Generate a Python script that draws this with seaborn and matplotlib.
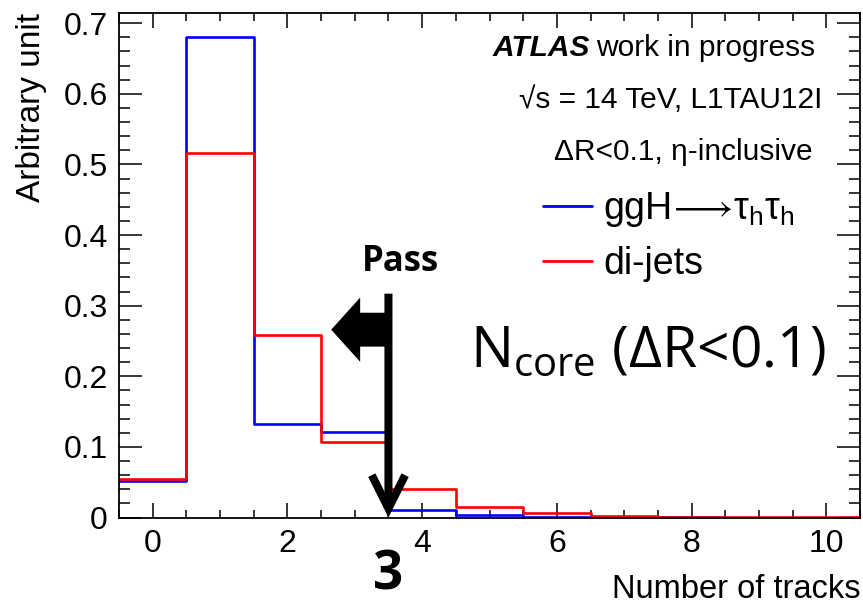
import numpy as np
import pandas as pd
import seaborn as sns
import matplotlib
matplotlib.use("Agg")
import matplotlib.pyplot as plt
from matplotlib.lines import Line2D
from matplotlib.patches import FancyArrow, FancyArrowPatch
from matplotlib.ticker import MultipleLocator

# ---------------- data ----------------
n_tracks = [0, 1, 2, 3, 4, 5, 6, 7, 8, 9, 10]
ggH_frac = [0.052, 0.680, 0.132, 0.121, 0.011, 0.003, 0.001, 0.0004, 0.0001, 0.0, 0.0]
dijet_frac = [0.055, 0.516, 0.258, 0.107, 0.041, 0.0145, 0.006, 0.0027, 0.001, 0.0005, 0.0003]
series_labels = ["ggH$\\!\\longrightarrow\\!\\mathregular{τ_{h}τ_{h}}$", "di-jets"]
series_colors = ["#0000ff", "#ff0000"]
cut_value = 3
x_ticks = [0, 2, 4, 6, 8, 10]
y_ticks = [0, 0.1, 0.2, 0.3, 0.4, 0.5, 0.6, 0.7]
y_ticklabels = ["0", "0.1", "0.2", "0.3", "0.4", "0.5", "0.6", "0.7"]

sns.set_style("white")
plt.rcParams["font.family"] = ["Liberation Sans", "DejaVu Sans"]
plt.rcParams["mathtext.default"] = "regular"
for key in ["text.color", "axes.labelcolor", "xtick.color", "ytick.color"]:
    plt.rcParams[key] = "black"

W, H = 863, 604
fig = plt.figure(figsize=(W / 100, H / 100), dpi=100)
ax = fig.add_axes([119 / W, 1 - 517.5 / H, (860 - 119) / W, (517.5 - 13) / H])

df_sig = pd.DataFrame({"n": n_tracks, "w": ggH_frac})
df_bkg = pd.DataFrame({"n": n_tracks, "w": dijet_frac})

sns.histplot(data=df_sig, x="n", weights="w", discrete=True, element="step",
             fill=False, color=series_colors[0], lw=1.9, ax=ax)
sns.histplot(data=df_bkg, x="n", weights="w", discrete=True, element="step",
             fill=False, color=series_colors[1], lw=1.9, ax=ax)

ax.set_xlim(-0.5, 10.5)
ax.set_ylim(0, 0.7145)
ax.set_xticks(x_ticks)
ax.set_yticks(y_ticks)
ax.set_yticklabels(y_ticklabels)
ax.xaxis.set_minor_locator(MultipleLocator(0.5))
ax.yaxis.set_minor_locator(MultipleLocator(0.02))
ax.tick_params(axis="both", which="both", direction="in", top=True, right=True,
               bottom=True, left=True, width=1.1, color="black", labelcolor="black",
               labelsize=23)
ax.tick_params(axis="x", which="major", length=11, pad=8)
ax.tick_params(axis="x", which="minor", length=5.5)
ax.tick_params(axis="y", which="major", length=16.5, pad=8)
ax.tick_params(axis="y", which="minor", length=8)
for s in ax.spines.values():
    s.set_linewidth(1.3)
    s.set_color("black")

ax.set_xlabel("Number of tracks", fontsize=23.5, loc="right", color="black")
ax.set_ylabel("Arbitrary unit", fontsize=24, loc="top", color="black")
ax.xaxis.set_label_coords(1.0, -0.112)
ax.yaxis.set_label_coords(-0.097, 1.0)


def fx(px):
    return px / W


def fy(py):
    return 1 - py / H


# ATLAS labels
fig.text(fx(590), fy(48), "ATLAS", fontsize=21.5, fontweight="bold", style="italic",
         ha="right", va="center")
fig.text(fx(815), fy(48), "work in progress", fontsize=21.5, ha="right", va="center")
fig.text(fx(822), fy(100), "√s = 14 TeV, L1TAU12I", fontsize=21.5, ha="right", va="center")
fig.text(fx(813), fy(152), "ΔR<0.1, η-inclusive", fontsize=21.5, ha="right", va="center")

# legend
handles = [Line2D([], [], color=c, lw=2) for c in series_colors]
leg = ax.legend(handles, series_labels, loc="upper left",
                bbox_to_anchor=((543 - 119) / (860 - 119), 1 - (190 - 13) / (517.5 - 13)),
                frameon=False, fontsize=27, handlelength=1.3, handletextpad=0.3,
                labelspacing=0.45, borderaxespad=0, borderpad=0)

# N_core annotation
fig.text(fx(826), fy(353), "N$_\\mathregular{core}$ (ΔR<0.1)", fontsize=41,
         family=["Open Sans", "DejaVu Sans"], ha="right", va="center")

# cut arrows
xc = cut_value + 0.5
ax.add_patch(FancyArrowPatch((xc, 0.317), (xc, 0.0), arrowstyle="->,head_length=24,head_width=12",
                             mutation_scale=1, lw=5.8, color="black", shrinkA=0, shrinkB=0,
                             joinstyle="miter", capstyle="butt", zorder=5))
ax.add_patch(FancyArrow(xc + 0.03, 0.266, -(xc + 0.03 - 2.65), 0, width=0.048,
                        head_width=0.091, head_length=0.43, length_includes_head=True,
                        color="black", lw=0, zorder=5))
fig.text(fx(400), fy(262), "Pass", fontsize=25, fontweight="bold",
         family=["Open Sans", "DejaVu Sans"], ha="center", va="center")
fig.text(fx(388), fy(575), str(cut_value), fontsize=38, fontweight="bold",
         family=["Open Sans", "DejaVu Sans"], ha="center", va="center")

fig.savefig("out.png", dpi=100)
